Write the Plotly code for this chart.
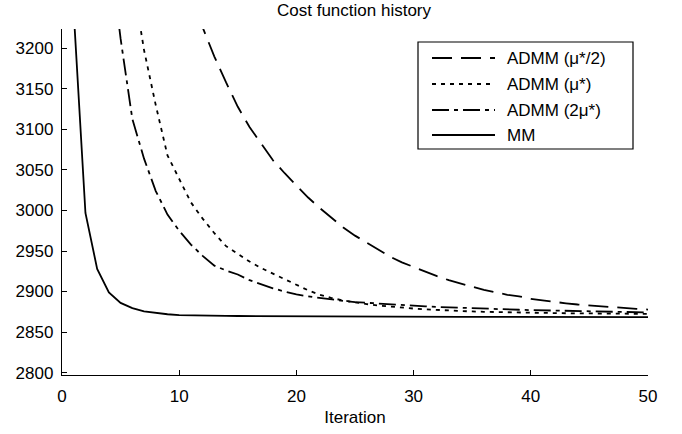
import plotly.graph_objects as go

iterations = list(range(1, 51))

admm_half = [3902, 3807, 3721, 3642, 3571, 3506, 3448, 3394, 3346, 3302,
             3262, 3226, 3190, 3158, 3128, 3103, 3082, 3062, 3046, 3031,
             3016, 3003, 2991, 2979, 2969, 2960, 2951, 2943, 2936, 2930,
             2924, 2919, 2914, 2910, 2906, 2902, 2899, 2896, 2894, 2891,
             2889, 2887, 2885.5, 2884, 2882.8, 2881.6, 2880.5, 2879.5, 2878.6, 2877.8]

admm_mu = [4128, 3878, 3678, 3518, 3393, 3288, 3198, 3130, 3068, 3040,
           3010, 2990, 2972, 2956, 2946, 2937, 2929, 2922, 2915, 2908,
           2901.5, 2896, 2892, 2889, 2886.5, 2884.5, 2882.8, 2881.3, 2880, 2879,
           2878, 2877.2, 2876.5, 2875.9, 2875.4, 2875, 2874.6, 2874.3, 2874, 2873.8,
           2873.6, 2873.4, 2873.2, 2873, 2872.9, 2872.8, 2872.7, 2872.6, 2872.5, 2872.4]

admm_2mu = [3950, 3680, 3480, 3330, 3212, 3113, 3064, 3024, 2995, 2975,
            2958, 2944, 2932, 2926, 2921, 2914, 2909, 2904, 2900, 2896.5,
            2894, 2892, 2890, 2888.5, 2887, 2886, 2885, 2884, 2883.2, 2882.4,
            2881.7, 2881, 2880.4, 2879.8, 2879.3, 2878.8, 2878.3, 2877.9, 2877.5, 2877.1,
            2876.8, 2876.5, 2876.2, 2875.9, 2875.6, 2875.3, 2875, 2874.7, 2874.4, 2874.2]

mm = [3245, 2997, 2928, 2899, 2886, 2879.5, 2875.5, 2873.5, 2872, 2871,
      2870.5, 2870.2, 2870, 2869.9, 2869.8, 2869.7, 2869.6, 2869.5, 2869.5, 2869.4,
      2869.4, 2869.3, 2869.3, 2869.2, 2869.2, 2869.1, 2869.1, 2869, 2869, 2869,
      2868.9, 2868.9, 2868.9, 2868.8, 2868.8, 2868.8, 2868.7, 2868.7, 2868.7, 2868.6,
      2868.6, 2868.6, 2868.6, 2868.5, 2868.5, 2868.5, 2868.5, 2868.4, 2868.4, 2868.4]

series_names = ["ADMM (μ*/2)", "ADMM (μ*)", "ADMM (2μ*)", "MM"]
series_values = [admm_half, admm_mu, admm_2mu, mm]
series_dash = ["20px,9px", "4px,5px", "17px,5px,4px,5px", "solid"]

x_ticks = [0, 10, 20, 30, 40, 50]
y_ticks = [2800, 2850, 2900, 2950, 3000, 3050, 3100, 3150, 3200]

FONT = "Liberation Sans, Arial, sans-serif"
W, H = 682, 434
L, R, T, B = 62, 34, 29, 59
PW, PH = W - L - R, H - T - B
LW = 1.8

def px_x(p):
    return (p - L) / PW

def px_y(p):
    return (H - B - p) / PH

fig = go.Figure()
for name, vals, dash in zip(series_names, series_values, series_dash):
    fig.add_trace(go.Scatter(x=iterations, y=vals, mode="lines", name=name,
                             line=dict(color="black", width=LW, dash=dash),
                             showlegend=False))

shapes = []
annotations = []
# legend box
shapes.append(dict(type="rect", xref="paper", yref="paper",
                   x0=px_x(418), x1=px_x(633), y0=px_y(149), y1=px_y(42),
                   line=dict(color="black", width=1.2), fillcolor="white", layer="above"))
row_y = [58, 84, 110, 135]
for name, dash, ry in zip(series_names, series_dash, row_y):
    shapes.append(dict(type="line", xref="paper", yref="paper",
                       x0=px_x(432), x1=px_x(495), y0=px_y(ry), y1=px_y(ry),
                       line=dict(color="black", width=LW, dash=dash), layer="above"))
    annotations.append(dict(xref="paper", yref="paper", x=px_x(505), y=px_y(ry),
                            text=name, showarrow=False, xanchor="left", yanchor="middle",
                            font=dict(family=FONT, size=17, color="black")))

fig.update_layout(
    width=W, height=H,
    margin=dict(l=L, r=R, t=T, b=B, pad=0),
    paper_bgcolor="white", plot_bgcolor="white",
    font=dict(family=FONT, size=17, color="black"),
    title=dict(text="Cost function history", x=px_x(354), xref="paper",
               y=1 - 10 / H, yref="container", yanchor="middle", xanchor="center",
               font=dict(family=FONT, size=17, color="black")),
    shapes=shapes, annotations=annotations,
    showlegend=False,
)
fig.update_xaxes(range=[0, 50], tickvals=x_ticks, ticks="inside", ticklen=5,
                 tickcolor="black", showline=True, linecolor="black", linewidth=1.3,
                 showgrid=False, zeroline=False, mirror=False,
                 ticklabelstandoff=5,
                 title=dict(text="Iteration", standoff=6, font=dict(size=17)))
fig.update_yaxes(range=[2797, 3224], tickvals=y_ticks, ticks="inside", ticklen=5,
                 tickcolor="black", showline=True, linecolor="black", linewidth=1.3,
                 showgrid=False, zeroline=False, mirror=False,
                 ticklabelstandoff=4)

fig.write_html("out.html")
